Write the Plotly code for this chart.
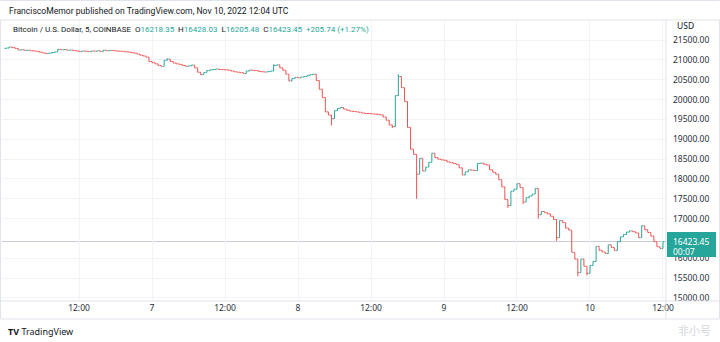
import plotly.graph_objects as go
import pandas as pd

# ---- data (30-minute closes, BTC/USD, Nov 6 00:00 -> Nov 10 12:00 UTC) ----
first_open = 21290
closes = [
    21300, 21325, 21310, 21290, 21250, 21255, 21240, 21245, 21230, 21225,
    21215, 21195, 21175, 21160, 21170, 21185, 21200, 21265, 21255, 21260,
    21245, 21250, 21235, 21225, 21215, 21225, 21220, 21210, 21225, 21220,
    21230, 21215, 21245, 21230, 21240, 21235, 21225, 21220, 21215, 21205,
    21200, 21185, 21170, 21150, 21120, 21100, 21070, 20960, 20930, 20900,
    20860, 20840, 20990, 21020, 20960, 20920, 20900, 20880, 20860, 20840,
    20850, 20870, 20800, 20690, 20630, 20680, 20730, 20750, 20760, 20770,
    20760, 20755, 20750, 20740, 20720, 20700, 20690, 20680, 20660, 20720,
    20745, 20735, 20730, 20710, 20700, 20695, 20705, 20720, 20860, 20875,
    20800, 20740, 20640, 20470, 20530, 20560, 20550, 20570, 20580, 20610,
    20630, 20640, 20480, 20260, 20050, 19690, 19610, 19520, 19720, 19780,
    19800, 19760, 19730, 19710, 19700, 19690, 19680, 19660, 19650, 19650,
    19640, 19635, 19630, 19615, 19560, 19480, 19360, 19320, 20100, 20580,
    20300, 19950, 19300, 18750, 18620, 18120, 18520, 18200, 18300, 18420,
    18650, 18540, 18500, 18480, 18470, 18430, 18410, 18390, 18360, 18280,
    18100, 18180, 18230, 18220, 18210, 18390, 18400, 18370, 18350, 18230,
    18170, 18120, 17980, 17800, 17480, 17330, 17690, 17740, 17880, 17780,
    17420, 17530, 17570, 17620, 17760, 17100, 17180, 17150, 17120, 17060,
    16980, 16520, 16950, 16900, 16760, 16710, 16150, 15980, 15640, 15980,
    15800, 15620, 15820, 15920, 16300, 16200, 16160, 16120, 16340, 16270,
    16200, 16420, 16540, 16600, 16660, 16690, 16670, 16640, 16520, 16820,
    16720, 16650, 16560, 16420, 16290, 16250, 16423.45,
]
low_wick_idx = [107, 127, 135, 165, 170, 175, 181, 188, 191]
low_wick_val = [19350, 19280, 17500, 17270, 17370, 17000, 16440, 15550, 15570]
high_wick_idx = [53, 88, 129]
high_wick_val = [21040, 20890, 20640]

last_price = 16423.45
y_ticks = [15000, 15500, 16000, 17000, 17500, 18000, 18500, 19000, 19500,
           20000, 20500, 21000, 21500]
x_tick_vals = ["2022-11-06 12:00", "2022-11-07 00:00", "2022-11-07 12:00",
               "2022-11-08 00:00", "2022-11-08 12:00", "2022-11-09 00:00",
               "2022-11-09 12:00", "2022-11-10 00:00", "2022-11-10 12:00"]
x_tick_text = ["12:00", "7", "12:00", "8", "12:00", "9", "12:00", "10", "12:00"]

# ---- build bars ----
times = pd.date_range("2022-11-06 00:00", periods=len(closes), freq="30min")
opens = [first_open] + closes[:-1]
highs = [max(o, c) for o, c in zip(opens, closes)]
lows = [min(o, c) for o, c in zip(opens, closes)]
for i, v in zip(low_wick_idx, low_wick_val):
    lows[i] = min(lows[i], v)
for i, v in zip(high_wick_idx, high_wick_val):
    highs[i] = max(highs[i], v)

UP = "#26a69a"
DOWN = "#ef5350"
BORDER = "#e0e3eb"
TXT = "#131722"

W, H = 720, 342
ML, MR, MT, MB = 2, 54, 20, 41
PW, PH = W - ML - MR, H - MT - MB


def px(X):
    return (X - ML) / PW


def py(Y):
    return (H - MB - Y) / PH


fig = go.Figure(go.Ohlc(
    x=times, open=opens, high=highs, low=lows, close=closes,
    increasing=dict(line=dict(color=UP, width=1)),
    decreasing=dict(line=dict(color=DOWN, width=1)),
    tickwidth=0.45, hoverinfo="skip",
))

shapes = []
# last price line
shapes.append(dict(type="line", xref="paper", yref="y", x0=0, x1=1,
                   y0=last_price, y1=last_price,
                   line=dict(color="#c9ccd3", width=1), layer="below"))
# frame lines
for (x0, y0, x1, y1) in [
    (0.5, 20, 719.5, 20),      # header separator
    (0.5, 301, 719.5, 301),    # pane / time axis
    (0.5, 319, 719.5, 319),    # time axis bottom
    (666, 20, 666, 319),       # price axis separator
    (0.5, 20, 0.5, 319),
    (719.5, 20, 719.5, 319),
    (0.5, 0.5, 719.5, 0.5),
]:
    shapes.append(dict(type="line", xref="paper", yref="paper",
                       x0=px(x0), x1=px(x1), y0=py(y0), y1=py(y1),
                       line=dict(color=BORDER, width=1)))
# price label box
shapes.append(dict(type="rect", xref="paper", yref="paper",
                   x0=px(667), x1=px(716), y0=py(257), y1=py(232),
                   fillcolor=UP, line=dict(width=0), layer="above"))

span = "<span style='color:%s'>%s</span>"
legend_txt = ("Bitcoin / U.S. Dollar, 5, COINBASE&nbsp;&nbsp;O" + span % (UP, "16218.35") +
              "&nbsp;&nbsp;H" + span % (UP, "16428.03") +
              "&nbsp;&nbsp;L" + span % (UP, "16205.48") +
              "&nbsp;&nbsp;C" + span % (UP, "16423.45") +
              "&nbsp;&nbsp;" + span % (UP, "+205.74 (+1.27%)"))

annotations = [
    dict(text="FranciscoMemor published on TradingView.com, Nov 10, 2022 12:04 UTC",
         x=px(7), y=py(11), font=dict(size=8.6, color=TXT, family="Roboto")),
    dict(text=legend_txt, x=px(11), y=py(29), font=dict(size=8, color=TXT, family="Roboto")),
    dict(text="USD", x=px(675), y=py(25), font=dict(size=8.5, color=TXT)),
    dict(text="16423.45", x=px(671), y=py(241), font=dict(size=8.5, color="white")),
    dict(text="00:07", x=px(671), y=py(251), font=dict(size=8.5, color="white")),
    dict(text="<b>TV</b> TradingView", x=px(6), y=py(331), font=dict(size=9, color=TXT)),
    dict(text="非小号", x=px(676), y=py(330),
         font=dict(size=11, color="#d4d6da", family="Noto Sans CJK SC")),
]
for a in annotations:
    a.update(xref="paper", yref="paper", xanchor="left", yanchor="middle",
             showarrow=False)

fig.update_layout(
    width=W, height=H,
    margin=dict(l=ML, r=MR, t=MT, b=MB, pad=0),
    paper_bgcolor="white", plot_bgcolor="white",
    font=dict(family="Noto Sans, sans-serif", size=9, color=TXT),
    showlegend=False,
    shapes=shapes, annotations=annotations,
    xaxis=dict(
        type="date", rangeslider=dict(visible=False),
        range=["2022-11-05 23:20:30", "2022-11-10 12:29:40"],
        tickvals=x_tick_vals, ticktext=x_tick_text,
        showgrid=True, gridcolor="#f2f3f7", gridwidth=1,
        zeroline=False, showline=False, ticks="",
        tickfont=dict(size=8.5, color="#2a2e39"),
    ),
    yaxis=dict(
        side="right", range=[14924, 22006],
        tickvals=y_ticks, tickformat=".2f",
        showgrid=True, gridcolor="#f2f3f7", gridwidth=1,
        zeroline=False, showline=False, ticks="",
        ticklabelstandoff=6,
        tickfont=dict(size=8.5, color="#2a2e39"),
    ),
)

fig.write_html("out.html")
